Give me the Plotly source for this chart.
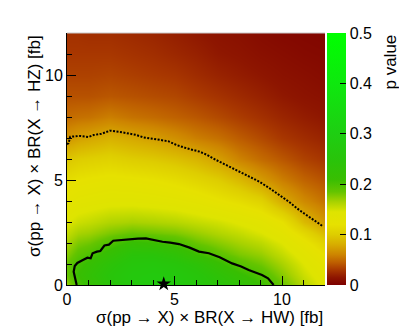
import numpy as np
import plotly.graph_objects as go

# grid coordinates (fb)
x_vals = [0, 0.5, 1, 2, 3, 4, 5, 6, 7, 8, 9, 10, 11, 12]
y_vals = [0, 0.5, 1, 1.5, 2, 2.5, 3, 4, 5, 6, 7, 8, 9, 10, 11, 12]

# p value columns (one list per x value, listed along y_vals)
p_x00 = [0.170, 0.185, 0.185, 0.175, 0.165, 0.155, 0.145, 0.130, 0.115, 0.095, 0.068, 0.050, 0.040, 0.034, 0.030, 0.027]
p_x05 = [0.200, 0.210, 0.203, 0.190, 0.178, 0.165, 0.152, 0.135, 0.120, 0.100, 0.074, 0.052, 0.040, 0.034, 0.030, 0.027]
p_x01 = [0.215, 0.225, 0.215, 0.197, 0.182, 0.168, 0.155, 0.137, 0.122, 0.102, 0.077, 0.053, 0.040, 0.034, 0.030, 0.026]
p_x02 = [0.245, 0.250, 0.240, 0.220, 0.197, 0.178, 0.162, 0.140, 0.125, 0.105, 0.083, 0.058, 0.042, 0.035, 0.030, 0.026]
p_x03 = [0.270, 0.270, 0.260, 0.245, 0.215, 0.185, 0.165, 0.140, 0.123, 0.100, 0.078, 0.053, 0.040, 0.033, 0.028, 0.024]
p_x04 = [0.280, 0.275, 0.265, 0.245, 0.210, 0.182, 0.163, 0.138, 0.120, 0.097, 0.073, 0.050, 0.038, 0.031, 0.026, 0.022]
p_x05b = [0.275, 0.270, 0.255, 0.232, 0.200, 0.178, 0.160, 0.135, 0.115, 0.092, 0.066, 0.046, 0.036, 0.029, 0.023, 0.019]
p_x06 = [0.260, 0.255, 0.240, 0.208, 0.185, 0.170, 0.155, 0.130, 0.108, 0.085, 0.058, 0.042, 0.032, 0.025, 0.020, 0.016]
p_x07 = [0.245, 0.235, 0.215, 0.190, 0.175, 0.162, 0.150, 0.122, 0.100, 0.074, 0.052, 0.037, 0.028, 0.021, 0.016, 0.013]
p_x08 = [0.230, 0.215, 0.193, 0.178, 0.166, 0.155, 0.143, 0.115, 0.088, 0.060, 0.044, 0.032, 0.024, 0.018, 0.014, 0.011]
p_x09 = [0.210, 0.196, 0.182, 0.170, 0.158, 0.146, 0.135, 0.105, 0.072, 0.050, 0.037, 0.027, 0.020, 0.015, 0.011, 0.008]
p_x10 = [0.185, 0.175, 0.165, 0.155, 0.145, 0.133, 0.120, 0.080, 0.058, 0.042, 0.030, 0.022, 0.016, 0.012, 0.009, 0.006]
p_x11 = [0.160, 0.152, 0.145, 0.137, 0.125, 0.110, 0.088, 0.063, 0.047, 0.034, 0.025, 0.018, 0.013, 0.010, 0.007, 0.005]
p_x12 = [0.140, 0.135, 0.128, 0.118, 0.105, 0.088, 0.070, 0.052, 0.040, 0.029, 0.021, 0.015, 0.011, 0.008, 0.006, 0.004]

p_columns = [p_x00, p_x05, p_x01, p_x02, p_x03, p_x04, p_x05b,
             p_x06, p_x07, p_x08, p_x09, p_x10, p_x11, p_x12]

# contour lines
solid_x = [0.45, 0.40, 0.31, 0.36, 0.48, 0.74, 0.95, 1.10, 1.19, 1.39, 1.55, 1.74, 1.95, 2.15, 2.5, 2.8,
           3.05, 3.3, 3.67, 4.0, 4.44, 4.8, 5.21, 5.7, 6.14, 6.6, 7.1, 7.68, 8.1, 8.45, 8.8, 9.07, 9.35, 9.61]
solid_y = [0.0, 0.3, 0.63, 0.90, 1.05, 1.19, 1.30, 1.27, 1.51, 1.59, 1.62, 1.88, 1.92, 2.11, 2.15, 2.18,
           2.18, 2.21, 2.22, 2.15, 2.06, 2.02, 1.95, 1.78, 1.59, 1.51, 1.32, 1.03, 0.88, 0.71, 0.58, 0.48, 0.32, 0.0]
dot_x = [0.0, 0.07, 0.15, 0.62, 1.0, 1.23, 1.6, 2.0, 2.4, 2.78, 3.2, 3.55, 4.32, 4.7, 5.09, 5.56, 6.17,
         6.5, 6.94, 7.4, 7.87, 8.4, 8.95, 9.4, 9.88, 10.3, 10.8, 11.3, 11.88]
dot_y = [6.7, 6.75, 7.06, 7.1, 7.05, 7.14, 7.2, 7.35, 7.3, 7.22, 7.15, 7.03, 6.9, 6.85, 6.67, 6.51, 6.35,
         6.2, 5.95, 5.72, 5.48, 5.2, 4.92, 4.62, 4.29, 3.98, 3.57, 3.2, 2.81]

best_x = [4.5]
best_y = [0.05]

cbar_ticks = [0, 0.1, 0.2, 0.3, 0.4, 0.5]
cbar_text = ["0", "0.1", "0.2", "0.3", "0.4", "0.5"]

z = np.array(p_columns).T

colorscale = [
    [0.00, "rgb(125,0,0)"],
    [0.03, "rgb(142,22,0)"],
    [0.06, "rgb(168,55,0)"],
    [0.09, "rgb(190,95,0)"],
    [0.12, "rgb(205,132,0)"],
    [0.16, "rgb(215,172,0)"],
    [0.20, "rgb(222,205,0)"],
    [0.24, "rgb(230,225,0)"],
    [0.29, "rgb(222,228,0)"],
    [0.33, "rgb(168,210,0)"],
    [0.37, "rgb(100,196,0)"],
    [0.42, "rgb(56,190,2)"],
    [0.50, "rgb(40,196,10)"],
    [0.60, "rgb(30,206,18)"],
    [0.80, "rgb(14,232,14)"],
    [1.00, "rgb(0,255,0)"],
]

FONT = "Liberation Sans, Arial, Helvetica, sans-serif"

fig = go.Figure()
fig.add_trace(go.Heatmap(
    x=x_vals, y=y_vals, z=z, zsmooth="best", zmin=0, zmax=0.5,
    colorscale=colorscale, hoverinfo="skip",
    colorbar=dict(
        x=1.008, xanchor="left", xpad=0, y=0.5, yanchor="middle", len=1, ypad=0,
        thickness=19, thicknessmode="pixels", outlinewidth=0,
        ticks="inside", ticklen=6, tickcolor="black",
        tickvals=cbar_ticks, ticktext=cbar_text,
        tickfont=dict(family=FONT, size=16, color="black"),
    ),
))
fig.add_trace(go.Scatter(x=solid_x, y=solid_y, mode="lines",
                         line=dict(color="black", width=2.2), cliponaxis=False, hoverinfo="skip"))
fig.add_trace(go.Scatter(x=dot_x, y=dot_y, mode="lines",
                         line=dict(color="black", width=2, dash="2px,1.5px"), hoverinfo="skip"))
fig.add_trace(go.Scatter(x=best_x, y=best_y, mode="markers",
                         marker=dict(symbol="star", size=11, color="black"), cliponaxis=False,
                         hoverinfo="skip"))

axis_common = dict(
    range=[0, 12], tickvals=[0, 5, 10], ticks="inside", ticklen=9, tickcolor="black",
    showline=True, linecolor="black", linewidth=1, showgrid=False, zeroline=False,
    tickfont=dict(family=FONT, size=16, color="black"),
    minor=dict(dtick=1, tick0=0, ticks="inside", ticklen=5, tickcolor="black", showgrid=False),
)
fig.update_xaxes(**axis_common)
fig.update_yaxes(**axis_common)

# the page body has an 8px margin, so the figure is a bit smaller than the window
fig.update_layout(
    width=399, height=324,
    margin=dict(l=59, r=82, t=25, b=47),
    paper_bgcolor="white", plot_bgcolor="white",
    showlegend=False,
    font=dict(family=FONT, size=16, color="black"),
    shapes=[dict(type="line", xref="paper", yref="paper", x0=0, x1=1, y0=1, y1=1,
                 line=dict(color="#c8c8c8", width=1))],
    annotations=[
        dict(text="σ(pp → X) × BR(X → HW) [fb]", xref="paper", yref="paper",
             x=1, y=-0.127, xanchor="right", yanchor="middle", showarrow=False,
             font=dict(family=FONT, size=17, color="black")),
        dict(text="σ(pp → X) × BR(X → HZ) [fb]", xref="paper", yref="paper",
             x=-0.128, y=1, xanchor="center", yanchor="top", textangle=-90, showarrow=False,
             font=dict(family=FONT, size=17, color="black")),
        dict(text="p value", xref="paper", yref="paper",
             x=1.252, y=1, xanchor="center", yanchor="top", textangle=-90, showarrow=False,
             font=dict(family=FONT, size=17, color="black")),
    ],
)

fig.write_html("out.html")
